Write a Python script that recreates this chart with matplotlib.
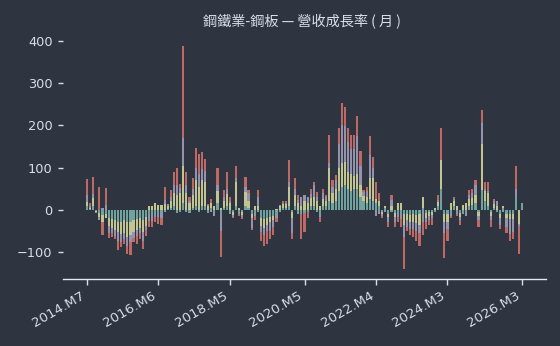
import numpy as np
import pandas as pd
import matplotlib
matplotlib.use("Agg")
import matplotlib.pyplot as plt

plt.rcParams['font.family'] = ['DejaVu Sans']

months = [f"{p.year}.M{p.month}" for p in pd.period_range("2014-07", "2026-03", freq="M")]

teal = [10, 2, 8, -3, -8, -12, -10, -20, -22, -25,
        -28, -30, -25, -30, -28, -25, -22, -20, -25, -18,
        -12, -10, -8, -10, -8, -5, 2, 5, 10, -8,
        -5, 15, -5, -8, 5, 10, -5, 10, 10, -8,
        5, -5, 15, -10, 5, 8, -10, -5, 10, -5,
        -5, 8, 5, -10, -5, -5, -20, -22, -20, -18,
        -15, -10, -5, 5, 5, 10, -5, 10, -10, -10,
        -8, -5, 8, 10, -5, -10, 10, 8, 20, 15,
        20, 45, 55, 58, 50, 45, 50, 50, 30, 20,
        15, 25, 20, 15, 10, -5, 5, -10, -5, -8,
        -8, -10, -10, -10, -12, -10, -12, -10, 5, -8,
        -5, -5, -5, 8, 50, -10, -10, -5, 8, -5,
        -8, -5, -5, 10, 12, 15, -5, 46, 20, 10,
        -5, 5, -5, -10, 5, -10, -10, -10, 30, 0,
        15]

yellow = [8, 3, 20, -3, -10, -18, -10, -18, -20, -22,
          -25, -28, -30, -35, -32, -27, -25, -22, -28, -20,
          8, 10, 15, 12, 12, 14, 8, 15, 30, 35,
          40, 90, 40, 15, 30, 60, 55, 60, 55, 8,
          10, 10, 30, 5, 15, 30, 15, -8, 55, 5,
          -7, 35, 15, -9, 8, 10, -18, -20, -15, -12,
          -10, 3, 8, 8, 8, 45, -15, 25, 15, 10,
          20, 15, 20, 20, 20, 10, 15, 12, 80, 25,
          30, 55, 55, 55, 40, 40, 30, 35, 30, 12,
          15, 50, 55, 10, 10, -5, 5, -8, 10, -10,
          15, 15, -25, -15, -18, -20, -20, -25, 25, -12,
          -10, -8, 5, 10, 68, -20, -20, 15, 12, 10,
          -10, 12, 15, 15, 15, 20, -10, 111, 25, 30,
          -10, 8, 10, -10, 5, -10, -12, -12, 0, -33,
          0]

lavender = [16, 3, 10, -2, -6, 5, 12, -16, -13, -15,
            -22, -18, -15, -20, -16, -15, -14, -12, -20, -10,
            -14, -16, -10, -8, -12, 10, 4, 10, 20, 25,
            12, 65, 20, 5, 15, 30, 30, 27, 26, 3,
            -5, -10, 15, -40, 10, 12, 5, -4, 10, -5,
            -5, 10, 20, -25, -10, 20, -15, -18, -16, -20,
            -15, -10, 4, 4, 4, 12, -35, 15, 8, 20,
            14, 15, 10, 28, 10, -8, 15, 10, 12, 15,
            20, 55, 90, 85, 70, 60, 65, 90, 45, 10,
            15, 55, 25, -15, -10, -5, -5, -10, 14, -10,
            -10, -12, -30, -15, -15, -15, -18, -20, -30, -10,
            -10, -7, 0, 5, 0, -25, -15, -10, 5, -5,
            -7, -5, -10, 10, 13, 25, -10, 48, 5, 5,
            -10, 7, 10, -15, -5, -20, -35, -30, 20, -5,
            0]

red = [40, 7, 40, 0, 54, -30, 40, -12, -10, -8,
       -20, -12, -10, -20, -30, -10, -20, -15, -20, -15,
       -15, -15, -12, -15, -15, 30, 0, 18, 30, 38,
       10, 219, 30, 10, 26, 47, 48, 40, 30, 3,
       11, 0, 40, -63, 16, 40, 10, -3, 30, -5,
       -5, 25, 6, -5, -10, 16, -20, -25, -30, -20,
       -20, -10, 0, 3, 5, 52, -15, 25, 12, -60,
       -45, -15, 12, 8, 12, -12, 10, 5, 65, 15,
       12, 38, 53, 45, 33, 32, 32, 48, 35, 5,
       10, 45, 25, 40, 20, -5, 0, -12, 10, -12,
       -12, -18, -75, -10, -15, -20, -25, -30, -30, -15,
       -10, -15, 0, 12, 75, -60, -30, -5, 5, -5,
       -10, 0, 0, 13, 10, 10, -15, 31, 15, 20,
       -15, 5, 0, -10, 0, -15, -18, -18, 55, -67,
       0]

series = [teal, yellow, lavender, red]
colors = ["#71a39e", "#c2c590", "#9492ad", "#be6963"]

bg = "#2e3440"
fg = "#d8dee9"

fig = plt.figure(figsize=(5.6, 3.46), dpi=100, facecolor=bg)
ax = fig.add_axes([0.1125, 0.1936, 0.8625, 0.7024])
ax.set_facecolor(bg)

x = np.arange(len(months))
pos_b = np.zeros(len(months))
neg_b = np.zeros(len(months))
for vals, c in zip(series, colors):
    v = np.array(vals, dtype=float)
    bottom = np.where(v >= 0, pos_b, neg_b)
    ax.bar(x, v, bottom=bottom, width=0.68, color=c, linewidth=0)
    pos_b = pos_b + np.where(v > 0, v, 0)
    neg_b = neg_b + np.where(v < 0, v, 0)

ax.set_xlim(-7.7, 147.7)
ax.set_ylim(-164, 412)

n = len(months)
tick_idx = [int(np.floor(t)) for t in np.linspace(0, n - 1, 7)]
ax.set_xticks(tick_idx)
ax.set_xticklabels([months[i] for i in tick_idx], rotation=30, ha='right',
                   fontsize=9.6, color=fg)
ax.set_yticks([-100, 0, 100, 200, 300, 400])
ax.tick_params(axis='y', colors=fg, labelsize=9.3, length=3.5, width=1, pad=4)
ax.tick_params(axis='x', colors=fg, length=4, width=1, pad=3)

for s in ['top', 'right', 'left']:
    ax.spines[s].set_visible(False)
ax.spines['bottom'].set_color('#e5e9f0')
ax.spines['bottom'].set_linewidth(1)

fig.text(0.54, 0.938, "鋼鐵業-鋼板 — 營收成長率 ( 月 )", ha='center', va='center',
         fontsize=10.2, color=fg, family=['Noto Sans CJK TC', 'DejaVu Sans'])

fig.savefig("out.png", dpi=100, facecolor=bg)
